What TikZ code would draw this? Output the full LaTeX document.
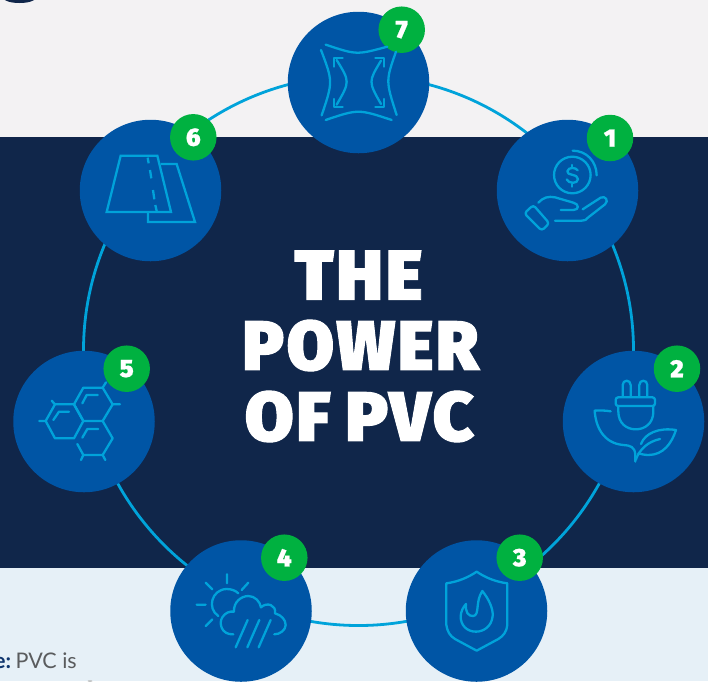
\documentclass[tikz,border=0pt]{standalone}
\usepackage{fontspec}
\usepackage{graphicx}
\setmainfont{Lato}
\newfontfamily\ttlfont{Fira Sans}[UprightFont=* Black,FakeBold=1.4,LetterSpace=4]
\newfontfamily\digitfont{Fira Sans}[UprightFont=* Black,FakeBold=0.8]
\definecolor{navy}{HTML}{10264A}
\definecolor{topbg}{HTML}{F3F2F3}
\definecolor{lowbg}{HTML}{E6F0F7}
\definecolor{disc}{HTML}{0055A5}
\definecolor{sky}{HTML}{00A3DA}
\definecolor{badgegreen}{HTML}{00B140}
\definecolor{bodygray}{HTML}{5A5C5E}
\definecolor{leadblue}{HTML}{10366E}
\tikzset{
  disc/.style={circle,fill=disc,minimum size=141.5pt,inner sep=0pt,draw=none},
  badge/.style={circle,fill=badgegreen,minimum size=46.5pt,inner sep=0pt,text=white,font=\digitfont\fontsize{25}{25}\selectfont},
  ring/.style={circle,draw=sky,line width=2.8pt,minimum size=550pt,inner sep=0pt},
  icon/.style={draw=sky,line width=2.3pt,line cap=round,line join=round},
  titleline/.style={text=white,inner sep=0pt,font=\ttlfont},
  zoomed/.style={shift={#1},x=0.3333pt,y=-0.3333pt}
}
\begin{document}
\begin{tikzpicture}[x=1pt,y=-1pt]
\clip (0,0) rectangle (708,681);
\fill[topbg] (0,0) rectangle (708,137);
\fill[navy] (0,137) rectangle (708,568);
\fill[lowbg] (0,568) rectangle (708,681);
\fill[navy] (19.5,-2) ellipse [x radius=16pt,y radius=5pt];
\node[anchor=base east,inner sep=0pt,text=bodygray,font=\fontsize{21.5}{21.5}\selectfont] (lead) at (77,668) {\textcolor{leadblue}{\bfseries e:}\kern-1pt\ PVC is};
\fill[bodygray!40] (90,681) ellipse [x radius=2.5pt,y radius=0.8pt];
\node[ring] (loop) at (358.5,350.5) {};
\node[disc] (d7) at (358.5,82.5) {};
\node[disc] (d1) at (567.5,190.5) {};
\node[disc] (d2) at (633.5,421.5) {};
\node[disc] (d3) at (476.5,611) {};
\node[disc] (d4) at (241,611) {};
\node[disc] (d5) at (84,421.5) {};
\node[disc] (d6) at (150.5,190.5) {};
\node[badge] (b7) at (401.7,29.7) {7};
\node[badge] (b1) at (610,138) {1};
\node[badge] (b2) at (677,368.7) {2};
\node[badge] (b3) at (519.7,557.7) {3};
\node[badge] (b4) at (284.3,557.7) {4};
\node[badge] (b5) at (126.7,368.7) {5};
\node[badge] (b6) at (193.3,137.3) {6};
\node[titleline] (t1) at (358.5,275) {\resizebox{128pt}{49pt}{THE}};
\node[titleline] (t2) at (360.5,345.5) {\resizebox{236pt}{50pt}{POWER}};
\node[titleline] (t3) at (359.5,416.5) {\resizebox{229pt}{50pt}{OF\kern-0.05em\ PVC}};
% icon 7
\begin{scope}[zoomed={(270,0)}]
\draw[icon] (167,134) .. controls (260,165) .. (352,140);
\draw[icon] (167,360) .. controls (265,327) .. (365,360);
\draw[icon] (153,150) .. controls (189,245) .. (155,346);
\draw[icon] (378,155) .. controls (347,243) .. (380,345);
\draw[icon] (200,180) .. controls (240,245) .. (200,314);
\draw[icon] (333,182) .. controls (295,245) .. (333,312);
\draw[icon] (218,175) -- (192,175) -- (192,200);
\draw[icon] (218,320) -- (192,320) -- (192,297);
\draw[icon] (316,175) -- (342,175) -- (342,200);
\draw[icon] (316,320) -- (342,320) -- (342,297);
\end{scope}
% icon 1
\begin{scope}[zoomed={(490,110)}]
\draw[icon] (247,195) circle [radius=18.3pt];
\draw[icon] (248,122) .. controls (290,122) and (320,155) .. (320,196);
\draw[icon] (263,181) .. controls (258,172) and (235,170) .. (232,184) .. controls (230,198) and (263,190) .. (264,207) .. controls (264,222) and (236,222) .. (230,208);
\draw[icon] (247,165) -- (247,172) (247,222) -- (247,230);
\draw[icon,rounded corners=3pt] (130,285) -- (178,340) -- (155,362) -- (103,310) -- cycle;
\draw[icon] (145,278) .. controls (160,262) and (175,258) .. (195,262) -- (250,278) .. controls (268,282) and (268,300) .. (250,300) -- (212,300);
\draw[icon] (278,298) -- (332,263) .. controls (345,256) and (358,272) .. (345,283) -- (295,322) .. controls (288,330) and (285,332) .. (275,332) -- (195,332);
\end{scope}
% icon 2
\begin{scope}[zoomed={(555,340)}]
\draw[icon] (203,170) -- (203,135) .. controls (203,118) and (227,118) .. (227,135) -- (227,170);
\draw[icon] (253,170) -- (253,135) .. controls (253,118) and (277,118) .. (277,135) -- (277,170);
\draw[icon,rounded corners=2.5pt] (182,172) rectangle (300,198);
\draw[icon] (190,198) -- (190,215) .. controls (190,250) and (215,268) .. (242,268) .. controls (270,268) and (295,250) .. (295,215) -- (295,198);
\draw[icon] (167,214) .. controls (150,211) and (135,211) .. (119,212) .. controls (122,260) and (145,310) .. (205,315) .. controls (225,316) and (240,320) .. (241,345) -- (241,365);
\draw[icon] (258,312) .. controls (270,280) and (310,262) .. (363,270) .. controls (350,310) and (325,345) .. (280,345) .. controls (268,345) and (258,342) .. (250,340);
\draw[icon] (242,360) .. controls (255,325) and (280,305) .. (315,297);
\end{scope}
% icon 3
\begin{scope}[zoomed={(400,530)}]
\draw[icon] (230,125) .. controls (205,142) and (175,155) .. (139,160) -- (139,285) .. controls (142,305) and (150,318) .. (165,327) -- (230,362) -- (295,327) .. controls (310,318) and (320,305) .. (322,285) -- (322,160) .. controls (285,155) and (255,142) .. (230,125) -- cycle;
\draw[icon] (247,183) .. controls (265,205) and (280,235) .. (278,258) .. controls (275,290) and (250,305) .. (228,305) .. controls (200,305) and (182,285) .. (182,260) .. controls (182,245) and (190,230) .. (198,222) .. controls (195,245) and (205,260) .. (220,258) .. controls (240,255) and (225,215) .. (247,183) -- cycle;
\end{scope}
% icon 4
\begin{scope}[zoomed={(165,530)}]
\draw[icon] (186,133) -- (186,160) (122,158) -- (142,178) (250,158) -- (230,180) (95,224) -- (122,224) (122,288) -- (142,268);
\draw[icon] (160,258) .. controls (125,235) and (140,178) .. (185,177) .. controls (200,177) and (212,182) .. (220,190);
\draw[icon] (205,313) .. controls (170,315) and (160,280) .. (172,262) .. controls (180,248) and (195,243) .. (207,245) .. controls (205,215) and (230,198) .. (250,198) .. controls (270,198) and (285,215) .. (288,232) .. controls (305,215) and (335,225) .. (330,250) .. controls (350,255) and (362,270) .. (362,285) .. controls (362,300) and (345,313) .. (328,313);
\draw[icon] (248,270) -- (212,352) (283,270) -- (247,352) (317,270) -- (281,352);
\end{scope}
% icon 5
\begin{scope}[zoomed={(0,340)}]
\draw[icon] (250,143) -- (308,143) -- (338,193) -- (308,243) -- (250,243) -- (222,193) -- cycle;
\draw[icon] (165,193) -- (222,193) -- (250,243) -- (222,295) -- (165,295) -- (137,243) -- cycle;
\draw[icon] (232,312) -- (250,345) -- (308,345) -- (338,295) -- (308,243);
\draw[icon] (308,143) -- (318,127) (338,193) -- (360,193) (165,193) -- (155,182) (137,243) -- (118,243) (250,345) -- (243,360) (308,345) -- (316,360);
\draw[icon] (247,190) -- (260,165) -- (293,165);
\draw[icon] (160,240) -- (177,215) -- (207,215);
\draw[icon] (247,293) -- (262,267) -- (295,267);
\end{scope}
% icon 6
\begin{scope}[zoomed={(70,110)}]
\draw[icon,line cap=butt,line join=miter] (152,137) -- (262,137) -- (303,306) -- (110,306) -- cycle;
\draw[icon,line cap=butt,line join=miter] (272,162) -- (320,162) -- (375,336) -- (234,336) -- (234,306);
\draw[icon,line cap=butt] (233,143) -- (236,160) (240,180) -- (244,205) (249,240) -- (253,268) (256,285) -- (260,303);
\end{scope}
\end{tikzpicture}
\end{document}
